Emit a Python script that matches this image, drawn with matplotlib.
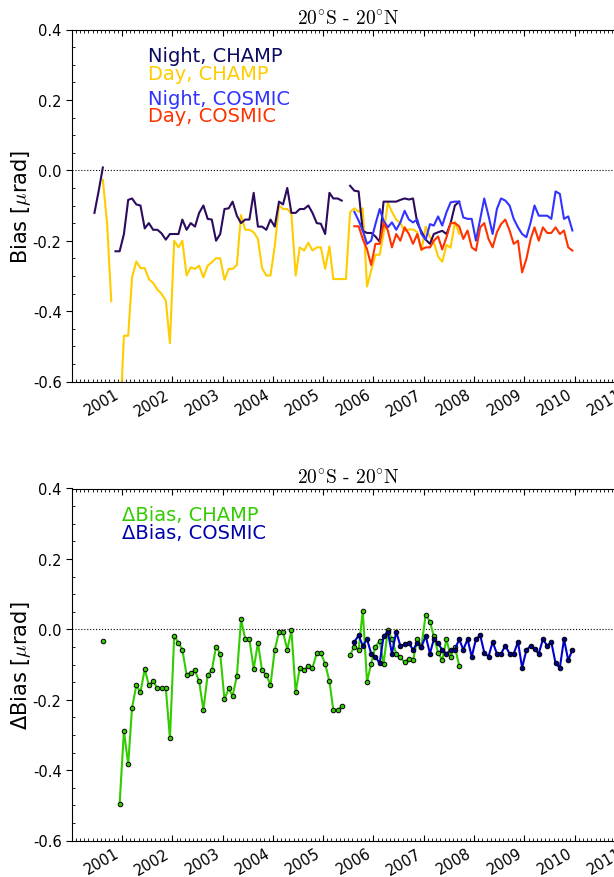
import numpy as np
import matplotlib
matplotlib.use('Agg')
import matplotlib.pyplot as plt
import matplotlib.dates as mdates
from matplotlib.ticker import MultipleLocator, FormatStrFormatter

plt.rcParams['axes.unicode_minus'] = False
plt.rcParams['mathtext.fontset'] = 'cm'

# month index counted from Jan 2000, values sit mid-month
# --- top panel: bias ---
night_champ_start = [5, 10, 66]
night_champ = [
    [-0.121, -0.060, 0.008],
    [-0.230, -0.230, -0.181, -0.084, -0.080, -0.097, -0.100, -0.165, -0.150, -0.169,
     -0.169, -0.179, -0.197, -0.181, -0.181, -0.181, -0.140, -0.169, -0.150, -0.160,
     -0.121, -0.100, -0.138, -0.140, -0.200, -0.181, -0.110, -0.108, -0.089, -0.129,
     -0.150, -0.140, -0.140, -0.064, -0.160, -0.160, -0.169, -0.140, -0.160, -0.089,
     -0.097, -0.050, -0.121, -0.121, -0.110, -0.110, -0.100, -0.121, -0.150, -0.152,
     -0.181, -0.064, -0.080, -0.080, -0.086],
    [-0.044, -0.058, -0.060, -0.172, -0.178, -0.178, -0.188, -0.203, -0.089, -0.089,
     -0.089, -0.089, -0.084, -0.080, -0.083, -0.080, -0.150, -0.174, -0.197, -0.209,
     -0.181, -0.176, -0.172, -0.181, -0.150, -0.100, -0.089],
]

day_champ_start = [7, 11]
day_champ = [
    [-0.027, -0.152, -0.372],
    [-0.730,
     -0.470, -0.470, -0.304, -0.259, -0.278, -0.278, -0.309, -0.320, -0.339, -0.351,
     -0.370, -0.491, -0.200, -0.219, -0.200, -0.299, -0.276, -0.280, -0.271, -0.304,
     -0.271, -0.261, -0.250, -0.250, -0.311, -0.280, -0.280, -0.269, -0.127, -0.169,
     -0.169, -0.176, -0.195, -0.278, -0.299, -0.299, -0.216, -0.100, -0.110, -0.110,
     -0.124, -0.299, -0.219, -0.228, -0.206, -0.228, -0.219, -0.219, -0.280, -0.216,
     -0.309, -0.309, -0.309, -0.309,
     -0.119, -0.108, -0.118, -0.108,
     -0.330, -0.285, -0.240, -0.240, -0.180, -0.092, -0.118, -0.140, -0.150, -0.172,
     -0.168, -0.168, -0.176, -0.228, -0.160, -0.190, -0.205, -0.245, -0.260, -0.212,
     -0.220, -0.146, -0.180],
]

cosmic_start = 67
night_cosmic = [
    -0.118, -0.143, -0.171, -0.209, -0.200, -0.153, -0.110, -0.143, -0.162, -0.148,
    -0.169, -0.148, -0.115, -0.140, -0.148, -0.140, -0.181, -0.197, -0.153, -0.157,
    -0.131, -0.157, -0.119, -0.091, -0.089, -0.089, -0.134, -0.138, -0.138, -0.200,
    -0.138, -0.080, -0.129, -0.181, -0.110, -0.080, -0.086, -0.100, -0.138, -0.162,
    -0.181, -0.190, -0.148, -0.100, -0.129, -0.129, -0.129, -0.138, -0.060, -0.067,
    -0.138, -0.131, -0.171]
day_cosmic = [
    -0.159, -0.159, -0.195, -0.224, -0.269, -0.209, -0.209, -0.150, -0.171, -0.219,
    -0.181, -0.200, -0.162, -0.181, -0.209, -0.181, -0.225, -0.219, -0.219, -0.200,
    -0.188, -0.225, -0.190, -0.150, -0.150, -0.159, -0.195, -0.171, -0.219, -0.228,
    -0.162, -0.150, -0.195, -0.219, -0.176, -0.153, -0.140, -0.171, -0.209, -0.200,
    -0.290, -0.252, -0.195, -0.162, -0.200, -0.162, -0.178, -0.178, -0.162, -0.181,
    -0.171, -0.219, -0.228]

# --- bottom panel: delta bias ---
dbias_champ_start = [7, 11, 66]
dbias_champ = [
    [-0.033],
    [-0.495, -0.288, -0.384, -0.223, -0.159, -0.179, -0.113, -0.159, -0.148, -0.167,
     -0.167, -0.167, -0.310, -0.019, -0.038, -0.058, -0.129, -0.124, -0.117, -0.148,
     -0.229, -0.129, -0.117, -0.049, -0.069, -0.199, -0.168, -0.189, -0.133, 0.028,
     -0.028, -0.028, -0.113, -0.038, -0.117, -0.129, -0.159, -0.058, -0.008, -0.008,
     -0.058, -0.003, -0.179, -0.109, -0.117, -0.103, -0.109, -0.068, -0.068, -0.098,
     -0.148, -0.229, -0.229, -0.219],
    [-0.073, -0.049, -0.058, 0.053, -0.149, -0.098, -0.049, -0.034, -0.098, -0.003,
     -0.028, -0.070, -0.080, -0.094, -0.083, -0.088, -0.028, -0.049, 0.042, 0.022,
     -0.020, -0.066, -0.088, -0.028, -0.078, -0.049, -0.104],
]
dbias_cosmic = [
    -0.036, -0.017, -0.047, -0.028, -0.069, -0.078, -0.097, -0.019, -0.007, -0.069,
    -0.007, -0.047, -0.043, -0.038, -0.059, -0.038, -0.050, -0.019, -0.069, -0.028,
    -0.040, -0.059, -0.069, -0.059, -0.058, -0.028, -0.058, -0.028, -0.078, -0.028,
    -0.017, -0.066, -0.078, -0.036, -0.069, -0.069, -0.047, -0.069, -0.069, -0.036,
    -0.109, -0.059, -0.047, -0.057, -0.069, -0.028, -0.047, -0.036, -0.097, -0.109,
    -0.028, -0.088, -0.058]

c_night_champ = '#2b0b5e'
c_day_champ = '#ffcc00'
c_night_cosmic = '#3333ff'
c_day_cosmic = '#ff3300'
c_dchamp = '#33cc00'
c_dcosmic = '#0000cc'


def dates(start, n):
    return (np.datetime64('2000-01') + np.arange(start, start + n)).astype('datetime64[D]') + 14


def style(ax, ylabel):
    ax.set_xlim(np.datetime64('2000-01-04'), np.datetime64('2011-01-01'))
    ax.set_ylim(-0.6, 0.4)
    ax.axhline(0, color='k', ls=':', lw=0.8, zorder=0)
    ax.xaxis.set_major_locator(mdates.YearLocator())
    ax.xaxis.set_minor_locator(mdates.MonthLocator())
    ax.xaxis.set_major_formatter(mdates.DateFormatter('%Y'))
    ax.yaxis.set_major_locator(MultipleLocator(0.2))
    ax.yaxis.set_minor_locator(MultipleLocator(0.05))
    ax.yaxis.set_major_formatter(FormatStrFormatter('%.1f'))
    ax.tick_params(axis='x', which='both', direction='in', top=True)
    ax.tick_params(axis='x', which='major', length=4, labelsize=10.5)
    ax.tick_params(axis='x', which='minor', length=2)
    ax.tick_params(axis='y', which='major', direction='out', length=4, labelsize=10.5, right=True)
    ax.tick_params(axis='y', which='minor', direction='in', length=2, right=True)
    for lab in ax.get_xticklabels():
        lab.set_rotation(30)
        lab.set_ha('right')
    ax.set_title(r'$20^{\circ}$S - $20^{\circ}$N', fontsize=14, pad=4, fontfamily='cmr10')
    ax.set_ylabel(ylabel, fontsize=15)
    ax.yaxis.set_label_coords(-0.07, 0.5)


fig = plt.figure(figsize=(6.14, 8.78), dpi=100)
ax1 = fig.add_axes([72 / 614, 1 - 382.5 / 878, 553 / 614, 352 / 878])
ax2 = fig.add_axes([72 / 614, 1 - 841.5 / 878, 553 / 614, 352 / 878])

for s, v in zip(day_champ_start, day_champ):
    ax1.plot(dates(s, len(v)), v, color=c_day_champ, lw=1.5)
for s, v in zip(night_champ_start, night_champ):
    ax1.plot(dates(s, len(v)), v, color=c_night_champ, lw=1.5)
ax1.plot(dates(cosmic_start, len(night_cosmic)), night_cosmic, color=c_night_cosmic, lw=1.5)
ax1.plot(dates(cosmic_start, len(day_cosmic)), day_cosmic, color=c_day_cosmic, lw=1.5)

ax1.text(0.137, 0.952, 'Night, CHAMP', color='#0b0b60', fontsize=14, va='top', transform=ax1.transAxes)
ax1.text(0.137, 0.901, 'Day, CHAMP', color=c_day_champ, fontsize=14, va='top', transform=ax1.transAxes)
ax1.text(0.137, 0.830, 'Night, COSMIC', color=c_night_cosmic, fontsize=14, va='top', transform=ax1.transAxes)
ax1.text(0.137, 0.782, 'Day, COSMIC', color=c_day_cosmic, fontsize=14, va='top', transform=ax1.transAxes)
style(ax1, r'Bias [$\mu$rad]')

for s, v in zip(dbias_champ_start, dbias_champ):
    ax2.plot(dates(s, len(v)), v, '-o', color=c_dchamp, lw=1.5, ms=3.3,
             mfc=c_dchamp, mec='k', mew=0.7)
ax2.plot(dates(cosmic_start, len(dbias_cosmic)), dbias_cosmic, '-o', color=c_dcosmic, lw=1.5,
         ms=3.3, mfc='#000088', mec='k', mew=0.7)

ax2.text(0.090, 0.952, 'ΔBias, CHAMP', color=c_dchamp, fontsize=14, va='top', transform=ax2.transAxes)
ax2.text(0.090, 0.901, 'ΔBias, COSMIC', color='#0000aa', fontsize=14, va='top', transform=ax2.transAxes)
style(ax2, r'ΔBias [$\mu$rad]')

fig.savefig('out.png', dpi=100)
